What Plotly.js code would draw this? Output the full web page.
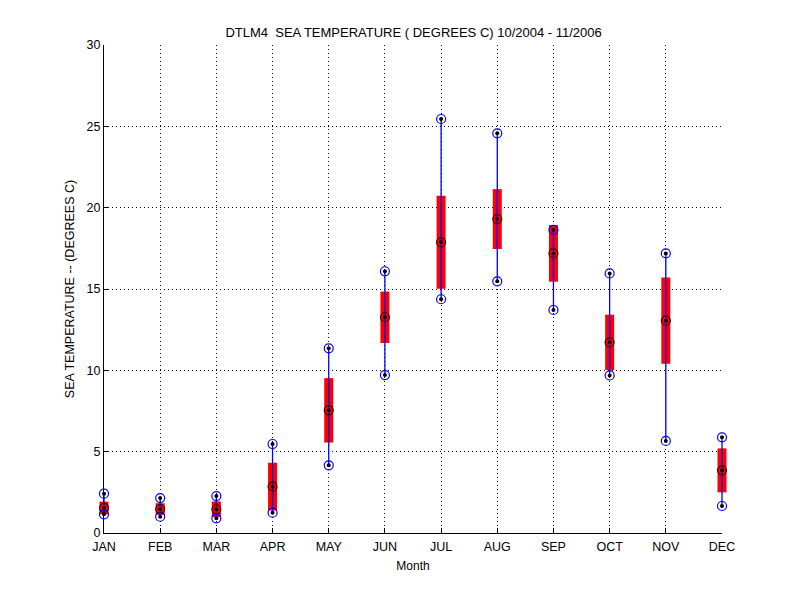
<!DOCTYPE html>
<html>
<head>
<meta charset="utf-8">
<script src="https://cdn.plot.ly/plotly-3.0.1.min.js"></script>
<style>
  body { margin: 0; background: #fff; }
  #chart { width: 800px; height: 600px; }
</style>
</head>
<body>
<div id="chart"></div>
<script>
// monthly sea temperature stats
var months = ['JAN', 'FEB', 'MAR', 'APR', 'MAY', 'JUN', 'JUL', 'AUG', 'SEP', 'OCT', 'NOV', 'DEC'];
var monthIdx = [1, 2, 3, 4, 5, 6, 7, 8, 9, 10, 11, 12];
var tempMin = [1.15, 1.0, 0.9, 1.25, 4.16, 9.71, 14.37, 15.47, 13.71, 9.69, 5.66, 1.66];
var tempMax = [2.42, 2.15, 2.27, 5.47, 11.35, 16.09, 25.45, 24.57, 18.63, 15.96, 17.19, 5.88];
var tempMean = [1.54, 1.47, 1.46, 2.85, 7.54, 13.26, 17.87, 19.30, 17.19, 11.72, 13.05, 3.85];
var tempStd = [0.39, 0.36, 0.48, 1.47, 1.98, 1.58, 2.86, 1.84, 1.74, 1.70, 2.65, 1.35];

// matlab lets the boxes at JAN/DEC hang over the axes, so the marks live on a
// second, slightly wider subplot (x2/y2) that lines up with the visible one
var padPx = 14, plotW = 646, unitPx = (plotW - 2 * padPx) / 11;
var pad = padPx / unitPx;

// invisible trace so the visible axes (x/y) get drawn
var axesHolder = {
  x: monthIdx, y: tempMean, mode: 'markers',
  marker: { size: 1, opacity: 0 }, hoverinfo: 'skip'
};

// red box = mean +/- std, drawn as thick error bars
var stdBox = {
  x: monthIdx, y: tempMean, xaxis: 'x2', yaxis: 'y2', mode: 'markers', cliponaxis: false,
  marker: { size: 1, color: 'rgba(0,0,0,0)' },
  error_y: { type: 'data', array: tempStd, symmetric: true, thickness: 9, width: 0, color: '#ff0000' },
  hoverinfo: 'skip'
};

// blue line min..max, one segment per month
var segX = [], segY = [];
monthIdx.forEach(function (m, i) {
  segX.push(m, m, null);
  segY.push(tempMin[i], tempMax[i], null);
});
var range = {
  x: segX, y: segY, xaxis: 'x2', yaxis: 'y2', mode: 'lines',
  line: { color: '#0000ff', width: 1.3 },
  hoverinfo: 'skip'
};

function ring(yvals, col) {
  return {
    x: monthIdx, y: yvals, xaxis: 'x2', yaxis: 'y2', mode: 'markers', cliponaxis: false,
    marker: { symbol: 'circle-open', size: 9, color: col, line: { width: 1.2, color: col } }
  };
}
function dot(yvals) {
  return {
    x: monthIdx, y: yvals, xaxis: 'x2', yaxis: 'y2', mode: 'markers', cliponaxis: false,
    marker: { symbol: 'circle', size: 4, color: '#000000' }
  };
}

var data = [axesHolder, stdBox, range,
  ring(tempMin, '#0000ff'), ring(tempMax, '#0000ff'), ring(tempMean, '#400010'),
  dot(tempMin), dot(tempMax), dot(tempMean)];

var gridDash = '1px,3px';

var layout = {
  width: 800, height: 600,
  showlegend: false,
  paper_bgcolor: '#ffffff',
  plot_bgcolor: 'rgba(0,0,0,0)',
  margin: { l: 90, r: 64, t: 45, b: 67 },
  font: { family: 'Liberation Sans, Arial, sans-serif', size: 12.5, color: '#000' },
  title: { text: 'DTLM4  SEA TEMPERATURE ( DEGREES C) 10/2004 - 11/2006', x: 0.517, xanchor: 'center', y: 0.953, font: { size: 13 } },
  xaxis: {
    domain: [padPx / plotW, 1 - padPx / plotW],
    range: [1, 12], tickvals: monthIdx, ticktext: months,
    showgrid: true, gridcolor: '#000', griddash: gridDash, gridwidth: 1,
    zeroline: false, showline: true, linecolor: '#000', linewidth: 1,
    ticks: 'inside', ticklen: 5, tickcolor: '#000', ticklabelstandoff: 2,
    title: { text: 'Month', standoff: 8, font: { size: 12 } }
  },
  yaxis: {
    anchor: 'x',
    range: [0, 30], dtick: 5,
    showgrid: true, gridcolor: '#000', griddash: gridDash, gridwidth: 1,
    zeroline: false, showline: true, linecolor: '#000', linewidth: 1,
    ticks: 'inside', ticklen: 5, tickcolor: '#000',
    title: { text: 'SEA TEMPERATURE -- (DEGREES C)', standoff: 9, font: { size: 12.5 } }
  },
  xaxis2: {
    domain: [0, 1], range: [1 - pad, 12 + pad], anchor: 'y2',
    visible: false, showgrid: false, zeroline: false
  },
  yaxis2: {
    domain: [0, 1], range: [0, 30], anchor: 'x2',
    visible: false, showgrid: false, zeroline: false
  }
};

Plotly.newPlot('chart', data, layout, { displayModeBar: false, staticPlot: true });
</script>
</body>
</html>
